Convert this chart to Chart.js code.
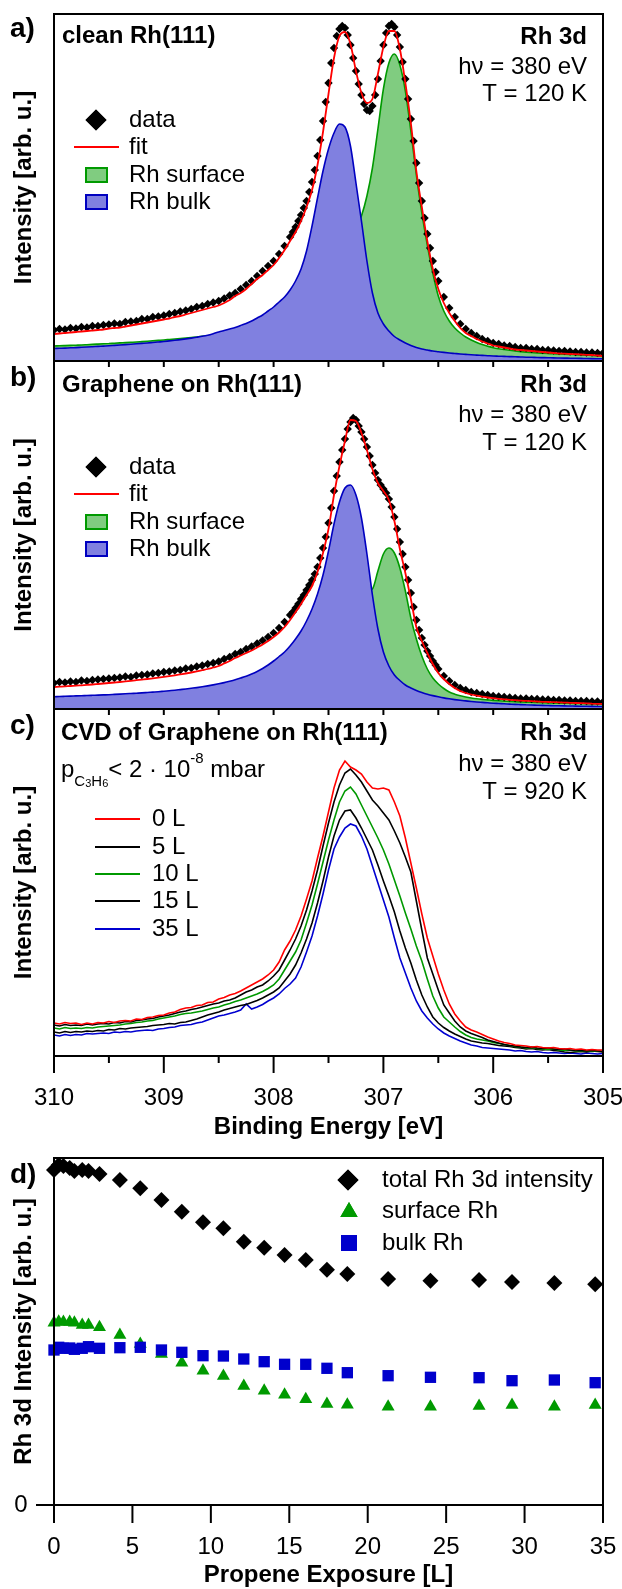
<!DOCTYPE html>
<html>
<head>
<meta charset="utf-8">
<script src="https://cdn.jsdelivr.net/npm/chart.js@4.4.1/dist/chart.umd.min.js"></script>
<style>
  body { margin: 0; background: #fff; }
  canvas { position: absolute; left: 0; top: 0; }
</style>
</head>
<body>
<canvas id="panelA" width="622" height="1589"></canvas>
<canvas id="panelB" width="622" height="1589"></canvas>
<canvas id="panelC" width="622" height="1589"></canvas>
<canvas id="panelD" width="622" height="1589"></canvas>
<script>
/* Rh 3d spectra (a-c) and Rh 3d intensity vs propene exposure (d)
   Intensities are in arbitrary units. */

// Binding energy grid for fits, components and CVD spectra [eV]
const energy = [
  310.00, 309.95, 309.90, 309.85, 309.80, 309.75, 309.70, 309.65, 309.60, 309.55,
  309.50, 309.45, 309.40, 309.35, 309.30, 309.25, 309.20, 309.15, 309.10, 309.05,
  309.00, 308.95, 308.90, 308.85, 308.80, 308.75, 308.70, 308.65, 308.60, 308.55,
  308.50, 308.45, 308.40, 308.35, 308.30, 308.25, 308.20, 308.15, 308.10, 308.05,
  308.00, 307.95, 307.90, 307.85, 307.80, 307.75, 307.70, 307.65, 307.60, 307.55,
  307.50, 307.45, 307.40, 307.35, 307.30, 307.25, 307.20, 307.15, 307.10, 307.05,
  307.00, 306.95, 306.90, 306.85, 306.80, 306.75, 306.70, 306.65, 306.60, 306.55,
  306.50, 306.45, 306.40, 306.35, 306.30, 306.25, 306.20, 306.15, 306.10, 306.05,
  306.00, 305.95, 305.90, 305.85, 305.80, 305.75, 305.70, 305.65, 305.60, 305.55,
  305.50, 305.45, 305.40, 305.35, 305.30, 305.25, 305.20, 305.15, 305.10, 305.05,
  305.00
];

// Binding energies of the measured points in a) and b) (denser around the peaks)
const dataEnergy = [
  310.00, 309.95, 309.90, 309.85, 309.80, 309.75, 309.70, 309.65, 309.60, 309.55,
  309.50, 309.45, 309.40, 309.35, 309.30, 309.25, 309.20, 309.15, 309.10, 309.05,
  309.00, 308.95, 308.90, 308.85, 308.80, 308.75, 308.70, 308.65, 308.60, 308.55,
  308.50, 308.45, 308.40, 308.35, 308.30, 308.25, 308.20, 308.15, 308.10, 308.05,
  308.00, 307.95, 307.90, 307.85,
  307.825, 307.800, 307.775, 307.750, 307.725, 307.700, 307.675, 307.650, 307.625, 307.600,
  307.575, 307.550, 307.525, 307.500, 307.475, 307.450, 307.425, 307.400, 307.375, 307.350,
  307.325, 307.300, 307.275, 307.250, 307.225, 307.200, 307.175, 307.150, 307.125, 307.100,
  307.075, 307.050, 307.025, 307.000, 306.975, 306.950, 306.925, 306.900, 306.875, 306.850,
  306.825, 306.800, 306.775, 306.750, 306.725, 306.700, 306.675, 306.650, 306.625, 306.600,
  306.575, 306.550, 306.525,
  306.50, 306.45, 306.40, 306.35, 306.30, 306.25, 306.20, 306.15, 306.10, 306.05,
  306.00, 305.95, 305.90, 305.85, 305.80, 305.75, 305.70, 305.65, 305.60, 305.55,
  305.50, 305.45, 305.40, 305.35, 305.30, 305.25, 305.20, 305.15, 305.10, 305.05,
  305.00
];

// a) clean Rh(111)
const dataA = [
  31, 32, 31.5, 33, 32.5, 34, 33.5, 35, 35, 36,
  36.5, 37.5, 37, 39, 39.5, 40, 42, 42, 44, 44.5,
  45.5, 47, 48, 49.5, 50.5, 52, 54, 55, 57, 58.5,
  60, 62.5, 65.5, 68, 72, 76, 80, 85, 90, 95,
  100, 107, 115, 124,
  129, 134, 140, 146, 153, 160, 169, 179, 191, 205,
  221, 240, 259, 278, 298, 313, 325, 332, 335, 333,
  326, 316, 303, 290, 277, 266, 257, 251, 250, 255,
  266, 282, 300, 316, 328, 335, 337, 334, 326, 314,
  299, 282, 262, 242, 220, 198, 178, 160, 143, 127,
  113, 100, 89,
  80, 64, 53, 44, 37, 32, 28, 25, 22, 20,
  18, 17, 15.5, 15, 14, 13, 13, 12, 12, 11,
  11, 10.5, 10, 10, 9.5, 9, 9, 8.5, 8.5, 8,
  8
];
const fitA = [
  27, 27.5, 28, 28.5, 29, 29.5, 30, 30.5, 31, 31.5,
  32.5, 33, 33.5, 34.5, 35.5, 36.5, 37.5, 38.5, 39.5, 40.5,
  41.5, 42.5, 44, 45, 46.5, 48, 49.5, 51, 52.5, 54,
  55.5, 58, 61, 65, 68, 72, 77, 82, 86, 91,
  96, 103, 111, 120, 129, 140, 154, 171, 196, 229,
  267, 303, 325, 329, 317, 290, 268, 258, 262, 287,
  314, 330, 330, 312, 278, 238, 190, 154, 120, 92,
  72, 58, 48, 40, 33, 28, 25, 22, 19.5, 17.5,
  15.5, 14.5, 13.5, 12.5, 11.5, 11, 10.5, 10, 9.5, 9,
  8.5, 8, 7.5, 7.3, 7, 6.8, 6.5, 6.2, 6, 5.5,
  5
];
const surfaceA = [
  15, 15.2, 15.4, 15.6, 15.8, 16, 16.3, 16.6, 16.9, 17.2,
  17.5, 17.8, 18.1, 18.4, 18.7, 19, 19.4, 19.8, 20.2, 20.6,
  21, 21.5, 22, 22.5, 23, 23.5, 24, 24.6, 25.2, 25.8,
  26.5, 27.2, 28, 28.8, 29.7, 30.6, 31.6, 32.7, 33.9, 35.2,
  36.6, 38.2, 40, 42, 44.5, 47.5, 51, 55, 60, 66,
  73, 82, 93, 106, 120, 132, 145, 165, 193, 232,
  272, 298, 307, 296, 270, 230, 186, 148, 116, 88,
  65, 50, 40, 33, 28, 24, 21, 18.5, 16.5, 14.8,
  13.3, 12.3, 11.5, 10.7, 10, 9.4, 8.9, 8.5, 8.1, 7.8,
  7.5, 7.2, 7, 6.7, 6.5, 6.3, 6, 5.8, 5.6, 5.3,
  5
];
const bulkA = [
  12.5, 12.7, 12.9, 13.2, 13.4, 13.7, 14, 14.3, 14.6, 14.9,
  15.2, 15.6, 16, 16.4, 16.8, 17.2, 17.6, 18, 18.5, 19,
  19.5, 20.1, 20.7, 21.4, 22.1, 22.9, 23.8, 24.7, 25.8, 27.3,
  29, 30.5, 32, 33.5, 35.5, 37.5, 40, 43, 46, 50,
  54, 59, 64, 71, 80, 92, 110, 135, 163, 190,
  212, 228, 237, 234, 215, 178, 140, 100, 68, 48,
  37, 30, 24.5, 21, 18, 15.5, 13.5, 12, 11, 10,
  9.3, 8.6, 8, 7.5, 7, 6.6, 6.2, 5.9, 5.6, 5.3,
  5, 4.8, 4.6, 4.4, 4.2, 4, 3.8, 3.7, 3.5, 3.4,
  3.3, 3.1, 3, 2.9, 2.8, 2.7, 2.6, 2.5, 2.4, 2.3,
  2.2
];

// b) graphene on Rh(111)
const dataB = [
  26, 27, 26.5, 27.5, 27, 28.5, 28, 29, 29.5, 30,
  30.5, 31, 31.5, 32.5, 32, 33.5, 34, 34.5, 35.5, 36,
  37, 37.5, 38.5, 39, 40.5, 41, 42.5, 43.5, 45, 46,
  47.5, 50, 52, 55, 57, 60, 62.5, 65.5, 68.5, 72,
  76, 81, 87, 94,
  97, 101, 105, 110, 114, 119, 124, 129, 135, 142,
  151, 161, 172, 186, 201, 218, 233, 247, 259, 270,
  280, 287, 291, 289, 283, 277, 270, 262, 253, 244,
  236, 229, 224, 220, 216, 210, 202, 192, 180, 167,
  155, 142, 129, 116, 102, 89, 79, 71, 64, 58,
  53, 48, 44,
  40, 33, 28, 24, 21, 19, 17, 16, 15, 14,
  13, 12.5, 12, 11.5, 11, 10.5, 10.5, 10, 10, 9.5,
  9.5, 9, 9, 8.5, 8.5, 8, 8, 8, 7.5, 7.5,
  7
];
const fitB = [
  22, 22.3, 22.6, 23, 23.3, 23.7, 24.1, 24.5, 25, 25.5,
  26, 26.5, 27, 27.6, 28.2, 28.8, 29.4, 30, 30.7, 31.4,
  32.1, 32.9, 33.7, 34.6, 35.5, 36.5, 37.6, 38.8, 40, 41.5,
  43, 45.5, 48, 51, 53.5, 56, 58.5, 61.5, 64.5, 68,
  72, 76.5, 82, 89, 97, 105, 114, 123, 137, 156,
  180, 214, 243, 268, 289, 288, 276, 259, 240, 226,
  218, 209, 188, 160, 136, 110, 82, 68, 56, 45,
  36, 30, 25, 21, 18, 16, 14.5, 13.3, 12.3, 11.5,
  10.8, 10.2, 9.7, 9.2, 8.8, 8.4, 8.1, 7.8, 7.5, 7.2,
  7, 6.8, 6.6, 6.4, 6.2, 6, 5.8, 5.6, 5.4, 5.2,
  5
];
const surfaceB = [
  11, 11.2, 11.4, 11.6, 11.8, 12, 12.2, 12.4, 12.6, 12.8,
  13, 13.2, 13.5, 13.8, 14.1, 14.4, 14.7, 15, 15.4, 15.8,
  16.2, 16.6, 17, 17.5, 18, 18.5, 19, 19.6, 20.2, 20.9,
  21.6, 22.4, 23.2, 24.1, 25, 26, 27, 28.2, 29.5, 31,
  32.5, 34, 36, 38, 40.5, 43, 46, 49.5, 53.5, 58,
  63, 69, 76, 84, 93, 103, 113, 118, 120, 138,
  155, 161, 156, 141, 118, 91, 70, 53, 40, 31,
  25, 20.5, 17, 14.8, 13.2, 12, 11, 10.2, 9.6, 9.1,
  8.6, 8.2, 7.9, 7.6, 7.3, 7.1, 6.9, 6.7, 6.5, 6.3,
  6.1, 6, 5.9, 5.8, 5.7, 5.6, 5.5, 5.4, 5.3, 5.2,
  5.1
];
const bulkB = [
  12.3, 12.5, 12.7, 12.9, 13.1, 13.3, 13.5, 13.7, 13.9, 14.1,
  14.3, 14.6, 14.9, 15.2, 15.5, 15.8, 16.1, 16.5, 16.9, 17.3,
  17.8, 18.3, 18.8, 19.4, 20, 20.7, 21.4, 22.2, 23.1, 24.1,
  25.2, 26.4, 27.8, 29.3, 31, 32.8, 35, 37.5, 40.5, 44,
  48, 52.5, 57, 63, 70, 78, 88, 100, 115, 134,
  158, 185, 207, 221, 224, 214, 191, 155, 114, 80,
  57, 43, 34, 28.5, 24, 21, 18.5, 16.5, 14.8, 13.4,
  12.2, 11.1, 10.2, 9.4, 8.7, 8.1, 7.5, 7, 6.6, 6.2,
  5.8, 5.5, 5.2, 4.9, 4.6, 4.4, 4.2, 4, 3.8, 3.6,
  3.5, 3.3, 3.2, 3.1, 3, 2.9, 2.8, 2.7, 2.6, 2.5,
  2.4
];

// c) CVD of graphene, spectra after increasing propene exposure
const cvd0L = [
  33, 32, 33.5, 32.5, 33, 31.5, 33, 32, 33.5, 33,
  34.5, 33.5, 35, 35.5, 35, 37, 36.5, 38.5, 39, 40.5,
  41, 43, 44, 46.5, 48, 48.5, 50.5, 51, 53.5, 54,
  57, 58.5, 61, 62.5, 65, 68, 71, 74, 77, 81,
  86, 94, 106, 115, 126, 140, 157, 175, 198, 220,
  244, 268, 286, 295, 289, 286, 282, 274, 268, 267,
  268, 266, 254, 240, 218, 193, 168, 142, 118, 100,
  82, 66, 52, 42, 35, 29, 26, 24, 21.5, 19,
  17, 15, 13.5, 12.5, 11, 10.5, 10, 9, 9.5, 8.5,
  8, 8.5, 7.5, 7, 7.5, 6.5, 7, 6, 6.5, 6,
  6
];
const cvd5L = [
  31, 30, 31.5, 30.5, 31, 30.5, 32, 31, 32, 32.5,
  32, 33.5, 33, 34.5, 34, 35.5, 36, 37, 37.5, 39,
  40, 41, 42.5, 44, 45, 46.5, 47.5, 49, 50.5, 52,
  53, 55, 56, 58, 61, 64, 66, 69, 71, 75,
  80, 86, 96, 106, 117, 130, 146, 165, 186, 210,
  233, 254, 271, 283, 287, 281, 274, 265, 256, 250,
  243, 236, 225, 213, 199, 184, 155, 126, 98, 82,
  66, 51, 43, 35, 29, 25, 22.5, 20.5, 18.5, 16,
  14.5, 13, 11.5, 10.5, 10, 9, 8.5, 9, 8, 7.5,
  8, 7, 6.5, 7, 6, 5.5, 6, 5, 5.5, 5,
  4.5
];
const cvd10L = [
  28, 27, 28.5, 27.5, 28, 27.5, 28.5, 28, 29, 29.5,
  30, 30.5, 31, 32, 32.5, 33.5, 34, 35, 35.5, 37,
  38, 39, 40, 41.5, 42.5, 43, 44, 45, 46.5, 48,
  49, 51, 52.5, 54.5, 56, 58, 60, 62, 64.5, 67.5,
  71, 77, 86, 95, 104, 116, 133, 151, 172, 194,
  216, 236, 254, 265, 269, 262, 251, 240, 229, 218,
  206, 192, 176, 160, 143, 127, 110, 95, 77, 60,
  48, 39, 34, 29, 24.5, 21, 18.5, 17, 16, 15,
  13.5, 12.5, 11.5, 10.5, 9.5, 9, 8, 8.5, 7.5, 7,
  6.5, 7, 6, 5.5, 6, 5, 5.5, 5, 4.5, 5,
  4.5
];
const cvd15L = [
  24, 23, 24.5, 23.5, 24.5, 24, 25, 24.5, 25.5, 25,
  26.5, 26, 27.5, 27, 28, 28.5, 29, 29.5, 30.5, 31,
  31.5, 32.5, 32, 33.5, 34, 35.5, 37, 39, 41, 42.5,
  44, 46, 47.5, 49, 50.5, 51.5, 53.5, 55.5, 58, 61,
  64, 68, 75, 82, 91, 103, 117, 133, 153, 175,
  199, 220, 236, 245, 246, 238, 228, 217, 206, 191,
  175, 160, 144, 125, 108, 93, 76, 61, 49, 39,
  33, 28.5, 25, 22, 19.5, 17, 15, 14, 13, 12.5,
  11.5, 10.5, 10, 9.5, 8.5, 8, 7, 7.5, 6.5, 6,
  6.5, 5.5, 5, 4, 3.5, 4, 4.5, 4, 5, 4.5,
  4
];
const cvd35L = [
  21, 20, 21.5, 20.5, 21.5, 21, 22.5, 22, 22.5, 23,
  22.5, 24, 23.5, 24.5, 24, 25, 25.5, 26, 25.5, 27,
  27.5, 28.5, 29, 30.5, 31, 31.5, 33, 34, 36, 38,
  40, 41, 42.5, 44, 46, 52, 47, 49, 51.5, 55,
  58, 62, 67.5, 72, 78, 89, 104, 120, 140, 162,
  186, 207, 219, 228, 232, 230, 220, 207, 190, 173,
  156, 139, 118, 98, 83, 68, 55, 45, 38, 32,
  27, 23, 20, 17.5, 15, 13, 11, 10, 8.5, 8,
  7.5, 7, 6.5, 6, 5, 5.5, 4.5, 4, 4.5, 3.5,
  3, 3.5, 3, 2.5, 3, 2.5, 2, 3, 2.5, 2,
  2.5
];

// d) Rh 3d intensities vs propene exposure [L]
const exposure = [0, 0.3, 0.6, 1.0, 1.3, 1.8, 2.2, 2.9, 4.2, 5.5, 6.85, 8.15, 9.5,
  10.8, 12.1, 13.4, 14.7, 16.05, 17.4, 18.7, 21.3, 24.0, 27.1, 29.2, 31.9, 34.5];
const totalRh = [335, 340, 339, 337, 334, 335, 334, 331, 325, 316.7, 305, 293.3, 282.7,
  276.7, 263.3, 257.3, 250, 245, 235.3, 231, 226, 224.3, 225, 223, 222, 220.7];
const surfaceRh = [182.3, 183.3, 183, 183, 182.3, 180, 180, 177.7, 170, 161, 151, 142.3, 134.3,
  129, 119, 114.3, 110.3, 105.7, 101, 100.3, 98.3, 98.3, 99, 100, 98.3, 100];
const bulkRh = [155, 157.7, 156.7, 157, 155.7, 156.7, 158.3, 156.7, 157.3, 157.7, 155, 152.7, 149.3,
  149, 146, 143.3, 140.7, 140.7, 136.7, 132.3, 129.3, 127.7, 127.3, 124.3, 125, 122.3];

// Tick labels
const energyTicks = [310, 309, 308, 307, 306, 305];
const energyMinorTicks = [309.5, 308.5, 307.5, 306.5, 305.5];
const exposureTicks = [0, 5, 10, 15, 20, 25, 30, 35];

const FONT = '"Liberation Sans", Arial, sans-serif';
const RED = '#ff0000', GREEN = '#009a00', GREEN_FILL = '#80cc80';
const BLUE = '#0000c0', BLUE_FILL = '#8080e0';

const points = (xs, ys) => xs.map((x, i) => ({ x: x, y: ys[i] }));

const text = (ctx, str, x, y, font, align) => {
    ctx.font = font;
    ctx.fillStyle = '#000';
    ctx.textAlign = align || 'left';
    ctx.textBaseline = 'middle';
    ctx.fillText(str, x, y);
};

const vline = (ctx, x, y1, y2) => {
    ctx.beginPath();
    ctx.moveTo(x, y1);
    ctx.lineTo(x, y2);
    ctx.stroke();
};

const hline = (ctx, x1, x2, y) => {
    ctx.beginPath();
    ctx.moveTo(x1, y);
    ctx.lineTo(x2, y);
    ctx.stroke();
};

const yTitle = (ctx, str, area) => {
    ctx.save();
    ctx.translate(24, (area.top + area.bottom) / 2);
    ctx.rotate(-Math.PI / 2);
    text(ctx, str, 0, 0, 'bold 24px ' + FONT, 'center');
    ctx.restore();
};

const marker = (ctx, style, radius, color, x, y) => {
    ctx.fillStyle = color;
    Chart.helpers.drawPoint(ctx, { pointStyle: style, radius: radius, borderWidth: 0, rotation: 0 }, x, y);
    ctx.fill();
};

const options = (top, bottom, xMin, xMax, reverse, yMax) => ({
    responsive: false,
    animation: false,
    devicePixelRatio: 1,
    events: [],
    layout: { padding: { left: 54, right: 19, top: top, bottom: 1589 - bottom } },
    plugins: { legend: { display: false }, tooltip: { enabled: false } },
    scales: {
        x: { type: 'linear', min: xMin, max: xMax, reverse: reverse, display: false },
        y: { type: 'linear', min: 0, max: yMax, display: false }
    }
});

const lineSet = (label, xs, ys, color, extra) => Object.assign({
    label: label,
    data: points(xs, ys),
    borderColor: color,
    borderWidth: 1.6,
    pointRadius: 0,
    fill: false,
    cubicInterpolationMode: 'monotone'
}, extra || {});

const dataSet = (ys) => ({
    label: 'data',
    data: points(dataEnergy, ys),
    showLine: false,
    pointStyle: 'rectRot',
    pointRadius: 4.2,
    pointBackgroundColor: '#000',
    pointBorderWidth: 0
});

/* Frame, ticks, labels and legend of a fitted spectrum panel */
const fitDecor = (cfg) => ({
    id: 'decor' + cfg.tag,
    afterDraw(chart) {
        const { ctx, chartArea: a } = chart;
        const x = chart.scales.x;
        ctx.save();
        ctx.strokeStyle = '#000';
        ctx.lineWidth = 2;
        ctx.strokeRect(a.left, a.top, a.right - a.left, a.bottom - a.top);
        if (cfg.topTicks) {
            energyTicks.concat(energyMinorTicks)
                .filter(v => v > 305 && v < 310)
                .forEach(v => vline(ctx, x.getPixelForValue(v), a.top, a.top + 6));
        }
        text(ctx, cfg.tag, 10, cfg.tagY, 'bold 28px ' + FONT);
        text(ctx, cfg.title, 62, cfg.titleY, 'bold 24px ' + FONT);
        text(ctx, 'Rh 3d', 587, cfg.infoY[0], 'bold 24px ' + FONT, 'right');
        text(ctx, 'h\u03bd = 380 eV', 587, cfg.infoY[1], '24px ' + FONT, 'right');
        text(ctx, cfg.temp, 587, cfg.infoY[2], '24px ' + FONT, 'right');
        yTitle(ctx, 'Intensity [arb. u.]', a);

        // legend
        const ly = cfg.legendY;
        const lf = '24px ' + FONT;
        marker(ctx, 'rectRot', 10.5, '#000', 96, ly[0]);
        text(ctx, 'data', 129, ly[0], lf);
        ctx.strokeStyle = RED;
        ctx.lineWidth = 2;
        hline(ctx, 74, 119, ly[1]);
        text(ctx, 'fit', 129, ly[1], lf);
        [[GREEN_FILL, GREEN, 'Rh surface', ly[2]], [BLUE_FILL, BLUE, 'Rh bulk', ly[3]]].forEach(([fill, line, label, y]) => {
            ctx.fillStyle = fill;
            ctx.fillRect(86, y - 7, 21, 14);
            ctx.strokeStyle = line;
            ctx.lineWidth = 2;
            ctx.strokeRect(86, y - 7, 21, 14);
            text(ctx, label, 129, y, lf);
        });
        ctx.restore();
    }
});

/* Panel c: frame, energy axis, pressure note and legend */
const cvdDecor = {
    id: 'decorC',
    afterDraw(chart) {
        const { ctx, chartArea: a } = chart;
        const x = chart.scales.x;
        ctx.save();
        ctx.strokeStyle = '#000';
        ctx.lineWidth = 2;
        ctx.strokeRect(a.left, a.top, a.right - a.left, a.bottom - a.top);
        energyTicks.concat(energyMinorTicks)
            .filter(v => v > 305 && v < 310)
            .forEach(v => vline(ctx, x.getPixelForValue(v), a.top, a.top + 6));
        energyTicks.forEach(v => {
            const px = x.getPixelForValue(v);
            vline(ctx, px, a.bottom, a.bottom + 17);
            text(ctx, String(v), px, 1098, '24px ' + FONT, 'center');
        });
        energyMinorTicks.forEach(v => vline(ctx, x.getPixelForValue(v), a.bottom, a.bottom + 7));
        text(ctx, 'Binding Energy [eV]', (a.left + a.right) / 2, 1127, 'bold 24px ' + FONT, 'center');

        text(ctx, 'c)', 10, 726, 'bold 28px ' + FONT);
        text(ctx, 'CVD of Graphene on Rh(111)', 61, 733, 'bold 24px ' + FONT);
        text(ctx, 'Rh 3d', 587, 733, 'bold 24px ' + FONT, 'right');
        text(ctx, 'h\u03bd = 380 eV', 587, 764, '24px ' + FONT, 'right');
        text(ctx, 'T = 920 K', 587, 792, '24px ' + FONT, 'right');
        yTitle(ctx, 'Intensity [arb. u.]', a);

        // p(C3H6) < 2 x 10^-8 mbar, built from sub/superscript pieces
        const parts = [['p', 24, 0], ['C', 15, 9], ['3', 11, 10], ['H', 15, 9], ['6', 11, 10],
            ['< 2 \u00b7 10', 24, 0], ['-8', 15, -14], [' mbar', 24, 0]];
        let px = 61;
        ctx.textAlign = 'left';
        ctx.textBaseline = 'alphabetic';
        ctx.fillStyle = '#000';
        parts.forEach(([t, size, dy]) => {
            ctx.font = size + 'px ' + FONT;
            ctx.fillText(t, px, 777 + dy);
            px += ctx.measureText(t).width;
        });

        // legend
        const ds = chart.data.datasets;
        const ys = [819, 847, 874, 901, 929];
        ds.forEach((d, i) => {
            ctx.strokeStyle = d.borderColor;
            ctx.lineWidth = 2;
            hline(ctx, 95, 140, ys[i]);
            text(ctx, d.label, 152, ys[i], '24px ' + FONT);
        });
        ctx.restore();
    }
};

/* Panel d: frame, exposure axis, legend */
const exposureDecor = {
    id: 'decorD',
    afterDraw(chart) {
        const { ctx, chartArea: a } = chart;
        const x = chart.scales.x;
        const y = chart.scales.y;
        ctx.save();
        ctx.strokeStyle = '#000';
        ctx.lineWidth = 2;
        ctx.strokeRect(a.left, a.top, a.right - a.left, a.bottom - a.top);
        exposureTicks.forEach(v => {
            const px = x.getPixelForValue(v);
            vline(ctx, px, a.bottom, a.bottom + 18);
            text(ctx, String(v), px, 1547, '24px ' + FONT, 'center');
        });
        const y0 = y.getPixelForValue(0);
        hline(ctx, 36, a.left, y0);
        text(ctx, '0', 21, y0, '24px ' + FONT, 'center');
        text(ctx, 'Propene Exposure [L]', (a.left + a.right) / 2, 1575, 'bold 24px ' + FONT, 'center');
        text(ctx, 'd)', 10, 1175, 'bold 28px ' + FONT);
        yTitle(ctx, 'Rh 3d Intensity [arb. u.]', a);

        marker(ctx, 'rectRot', 10.5, '#000', 348, 1180);
        text(ctx, 'total Rh 3d intensity', 382, 1180, '24px ' + FONT);
        marker(ctx, 'triangle', 10, GREEN, 349, 1212);
        text(ctx, 'surface Rh', 382, 1211, '24px ' + FONT);
        marker(ctx, 'rect', 11.3, '#0000cc', 349, 1243);
        text(ctx, 'bulk Rh', 382, 1243, '24px ' + FONT);
        ctx.restore();
    }
};

const buildSpectrum = (id, top, bottom, yMax, fit, data, bulk, surface, decor) => {
    new Chart(document.getElementById(id), {
        type: 'line',
        data: {
            datasets: [
                lineSet('fit', energy, fit, RED, { borderWidth: 1.8 }),
                dataSet(data),
                lineSet('Rh bulk', energy, bulk, BLUE, { fill: 'origin', backgroundColor: BLUE_FILL }),
                lineSet('Rh surface', energy, surface, GREEN, { fill: 'origin', backgroundColor: GREEN_FILL })
            ]
        },
        options: options(top, bottom, 305, 310, true, yMax),
        plugins: [decor]
    });
};

const buildCvd = () => {
    const noisy = { cubicInterpolationMode: 'default', tension: 0, borderWidth: 1.6 };
    new Chart(document.getElementById('panelC'), {
        type: 'line',
        data: {
            datasets: [
                lineSet('0 L', energy, cvd0L, RED, noisy),
                lineSet('5 L', energy, cvd5L, '#000', noisy),
                lineSet('10 L', energy, cvd10L, '#009900', noisy),
                lineSet('15 L', energy, cvd15L, '#000', noisy),
                lineSet('35 L', energy, cvd35L, '#0000d0', noisy)
            ]
        },
        options: options(709, 1056, 305, 310, true, 347),
        plugins: [cvdDecor]
    });
};

const buildExposure = () => {
    const scatter = (label, ys, style, radius, color) => ({
        label: label,
        data: points(exposure, ys),
        showLine: false,
        pointStyle: style,
        pointRadius: radius,
        pointBackgroundColor: color,
        pointBorderWidth: 0,
        clip: false
    });
    new Chart(document.getElementById('panelD'), {
        type: 'scatter',
        data: {
            datasets: [
                scatter('total Rh 3d intensity', totalRh, 'rectRot', 8, '#000'),
                scatter('bulk Rh', bulkRh, 'rect', 8, '#0000cc'),
                scatter('surface Rh', surfaceRh, 'triangle', 7.5, GREEN)
            ]
        },
        options: options(1158, 1505, 0, 35, false, 347),
        plugins: [exposureDecor]
    });
};

document.addEventListener('DOMContentLoaded', () => {
    buildSpectrum('panelA', 14, 361, 347, fitA, dataA, bulkA, surfaceA, fitDecor({
        tag: 'a)', tagY: 29, title: 'clean Rh(111)', titleY: 36,
        infoY: [37, 67, 94], temp: 'T = 120 K', topTicks: false,
        legendY: [120, 147, 175, 202]
    }));
    buildSpectrum('panelB', 361, 709, 348, fitB, dataB, bulkB, surfaceB, fitDecor({
        tag: 'b)', tagY: 378, title: 'Graphene on Rh(111)', titleY: 385,
        infoY: [385, 415, 443], temp: 'T = 120 K', topTicks: true,
        legendY: [467, 494, 522, 549]
    }));
    buildCvd();
    buildExposure();
});
</script>
</body>
</html>
